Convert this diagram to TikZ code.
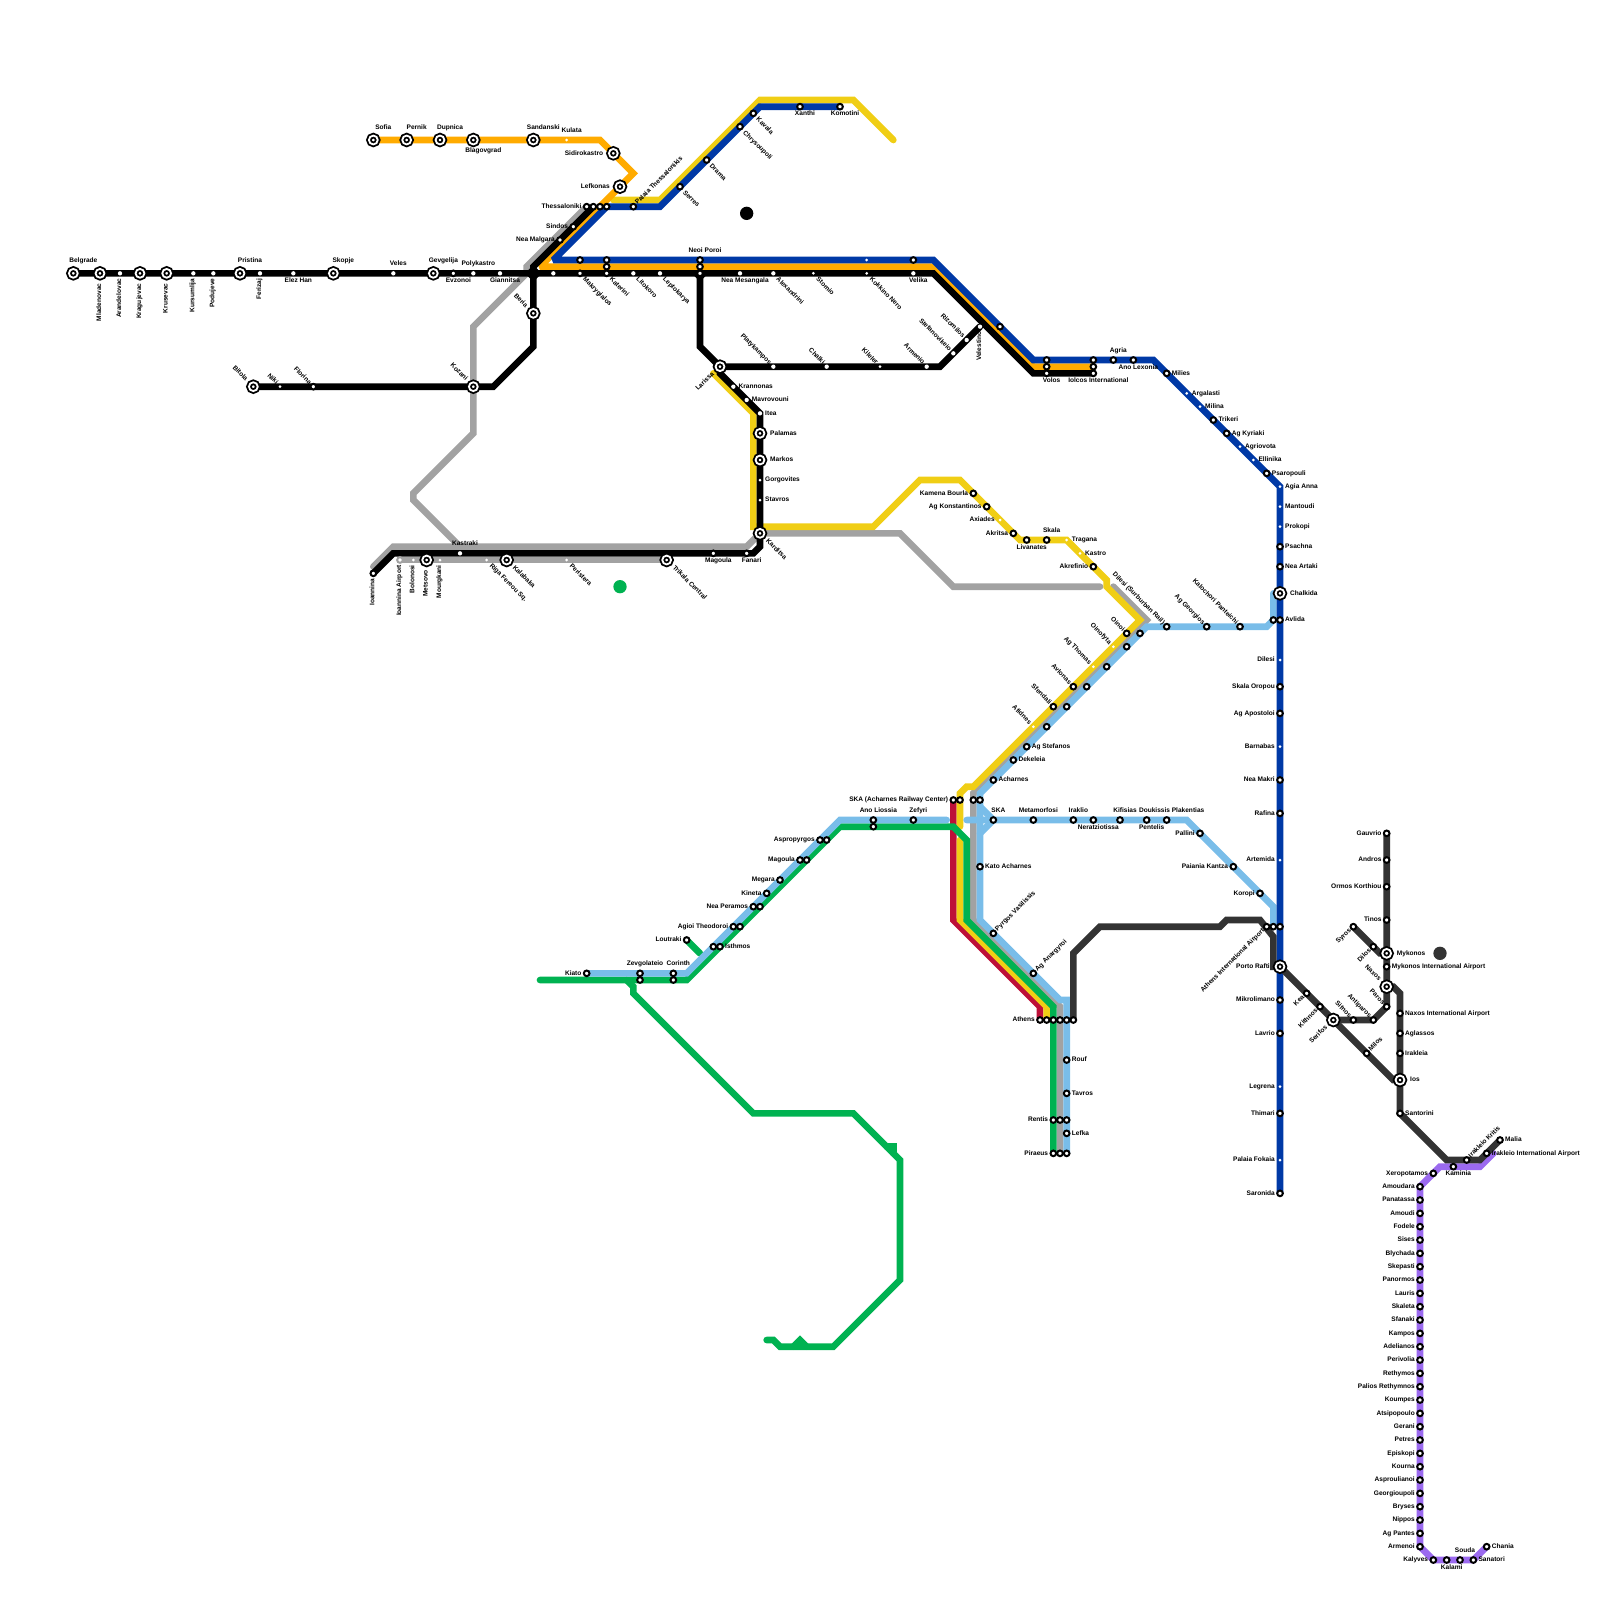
\documentclass[tikz,border=0pt]{standalone}
\usepackage{fontspec}
\setmainfont{Liberation Sans}
\usetikzlibrary{backgrounds}
\definecolor{routered}{HTML}{bd1038}
\definecolor{routeyellow}{HTML}{f0ce15}
\definecolor{routegreen}{HTML}{00b251}
\definecolor{routeorange}{HTML}{ffab00}
\definecolor{routeblue}{HTML}{0039a6}
\definecolor{routesky}{HTML}{79bde9}
\definecolor{routegrey}{HTML}{a2a2a2}
\definecolor{routedark}{HTML}{333333}
\definecolor{routepurple}{HTML}{9b6aef}
\begin{document}
\begin{tikzpicture}[x=2mm,y=-2mm,
  route/.style={line width=2mm,line cap=round,miter limit=2},
  stop/.style={circle,draw=black,fill=white,line width=0.6mm,inner sep=0pt,minimum size=1.7mm},
  halt/.style={circle,fill=white,inner sep=0pt,minimum size=0.9mm},
  mid/.style={halt,minimum size=1.3mm},
  hub/.style={circle,draw=black,double=white,fill=white,line width=0.55mm,double distance=0.55mm,inner sep=0pt,minimum size=2.65mm},
  bigdot/.style={circle,inner sep=0pt,minimum size=4mm},
  lbl/.style={font=\bfseries\fontsize{5.6}{6}\selectfont,inner sep=0pt,text height=1.4mm,text depth=0.4mm},
  lab/.style n args={4}{append after command={(\tikzlastnode.center) node[lbl,shift={#3},rotate=#2,anchor=#1] (\tikzlastnode Text) {#4}}},
  labT/.style={lab={center}{0}{(0.75,-1.4)}{#1}},
  labB/.style={lab={center}{0}{(0.75,1.1)}{#1}},
  labL/.style={lab={east}{0}{(-0.75,0)}{#1}},
  labR/.style={lab={west}{0}{(0.75,0)}{#1}},
  labV/.style={lab={east}{90}{(-0.1,0.75)}{#1}},
  labNW/.style={lab={east}{-45}{(-0.45,-0.45)}{#1}},
  labSE/.style={lab={west}{-45}{(0.55,0.75)}{#1}},
  labNE/.style={lab={west}{45}{(0.45,-0.45)}{#1}},
  labSW/.style={lab={east}{45}{(-0.45,0.45)}{#1}},
  hubT/.style={lab={center}{0}{(1.5,-1.9)}{#1}},
  hubB/.style={lab={center}{0}{(1.5,1.65)}{#1}},
  hubL/.style={lab={east}{0}{(-1.5,0)}{#1}},
  hubR/.style={lab={west}{0}{(1.5,0)}{#1}},
  hubV/.style={lab={east}{90}{(-0.1,1.5)}{#1}},
  hubNW/.style={lab={east}{-45}{(-1,-1)}{#1}},
  hubSE/.style={lab={west}{-45}{(1,1)}{#1}},
  hubSW/.style={lab={east}{45}{(-1,1)}{#1}}]
  \useasboundingbox (0,0) rectangle (240,240);
  \node[hub,hubT={Belgrade}] (belgrade) at (11,41) {};
  \node[hub,hubV={Mladenovac}] (mladenovac) at (15,41) {};
  \node[mid,labV={Arandelovac}] (arandelovac) at (18,41) {};
  \node[hub,hubV={Kragujevac}] (kragujevac) at (21,41) {};
  \node[hub,hubV={Krusevac}] (krusevac) at (25,41) {};
  \node[mid,labV={Kursumlija}] (kursumlija) at (29,41) {};
  \node[mid,labV={Podujeve}] (podujeve) at (32,41) {};
  \node[hub,hubT={Pristina}] (pristina) at (36,41) {};
  \node[mid,labV={Ferizaj}] (ferizaj) at (39,41) {};
  \node[mid,labB={Elez Han}] (elezHan) at (44,41) {};
  \node[hub,hubT={Skopje}] (skopje) at (50,41) {};
  \node[mid,labT={Veles}] (veles) at (59,41) {};
  \node[hub,hubT={Gevgelija}] (gevgelija) at (65,41) {};
  \node[stop,labB={Evzonoi}] (evzonoi) at (68,41) {};
  \node[mid,labT={Polykastro}] (polykastro) at (71,41) {};
  \node[mid,labB={Giannitsa}] (giannitsa) at (75,41) {};
  \node[mid] (halt83) at (83,41) {};
  \node[stop,labSE={Makrygialos}] (makrygialos) at (87,41) {};
  \node[stop,labSE={Katerini}] (katerini) at (91,41) {};
  \node[mid,labSE={Litokoro}] (litokoro) at (95,41) {};
  \node[mid,labSE={Leptokarya}] (leptokarya) at (99,41) {};
  \node[stop] (neoiPoroiC) at (105,41) {};
  \node[mid,labB={Nea Mesangala}] (neaMesangala) at (111,41) {};
  \node[mid,labSE={Alexandrini}] (alexandrini) at (116,41) {};
  \node[halt,labSE={Stomio}] (stomio) at (122,41) {};
  \node[halt,labSE={Kokkino Nero}] (kokkinoNero) at (130,41) {};
  \node[mid,labB={Velika}] (velika) at (137,41) {};
  \node[stop] (blue87) at (87,39) {};
  \node[stop] (kateriniA) at (91,39) {};
  \node[stop] (kateriniB) at (91,40) {};
  \node[stop,labT={Neoi Poroi}] (neoiPoroi) at (105,39) {};
  \node[stop] (neoiPoroiB) at (105,40) {};
  \node[halt] (blue130) at (130,39) {};
  \node[stop] (blue137) at (137,39) {};
  \node[stop] (blue150) at (150,49) {};
  \node[hub,hubT={Sofia}] (sofia) at (56,21) {};
  \node[hub,hubT={Pernik}] (pernik) at (61,21) {};
  \node[hub,hubT={Dupnica}] (dupnica) at (66,21) {};
  \node[hub,hubB={Blagovgrad}] (blagovgrad) at (71,21) {};
  \node[hub,hubT={Sandanski}] (sandanski) at (80,21) {};
  \node[halt,labT={Kulata}] (kulata) at (85,21) {};
  \node[hub,hubL={Sidirokastro}] (sidirokastro) at (92,23) {};
  \node[hub,hubL={Lefkonas}] (lefkonas) at (93,28) {};
  \node[stop,labL={Thessaloniki}] (thessaloniki) at (88,31) {};
  \node[stop] (thessalonikiB) at (89,31) {};
  \node[stop] (thessalonikiC) at (90,31) {};
  \node[stop] (thessalonikiD) at (91,31) {};
  \node[stop,labL={Sindos}] (sindos) at (86,34) {};
  \node[stop,labL={Nea Malgara}] (neaMalgara) at (84,36) {};
  \node[stop,labNE={Palaia Thessalonikis}] (palaiaThess) at (95,31) {};
  \node[stop,labSE={Serres}] (serres) at (102,28) {};
  \node[stop,labSE={Drama}] (drama) at (106,24) {};
  \node[stop,labSE={Chrysoupoli}] (chrysoupoli) at (111,19) {};
  \node[stop,labSE={Kavala}] (kavala) at (113,17) {};
  \node[stop,labB={Xanthi}] (xanthi) at (120,16) {};
  \node[stop,labB={Komotini}] (komotini) at (126,16) {};
  \node[hub,hubNW={Beria}] (beria) at (80,47) {};
  \node[hub,hubNW={Bitola}] (bitola) at (38,58) {};
  \node[halt,labNW={Niki}] (niki) at (42,58) {};
  \node[stop,labNW={Florina}] (florina) at (47,58) {};
  \node[hub,hubNW={Kozani}] (kozani) at (71,58) {};
  \node[hub,hubSW={Larissa}] (larissa) at (108,55) {};
  \node[mid,labNW={Platykampos}] (platykampos) at (116,55) {};
  \node[mid,labNW={Chalki}] (chalki) at (124,55) {};
  \node[halt,labNW={Kileler}] (kileler) at (132,55) {};
  \node[mid,labNW={Armenio}] (armenio) at (139,55) {};
  \node[mid,labNW={Stefanovikeio}] (stefanovikeio) at (143,53) {};
  \node[mid,labNW={Rizomilos}] (rizomilos) at (145,51) {};
  \node[mid,labV={Velestino}] (velestino) at (147,49) {};
  \node[mid,labR={Krannonas}] (krannonas) at (110,58) {};
  \node[mid,labR={Mavrovouni}] (mavrovouni) at (112,60) {};
  \node[mid,labR={Itea}] (itea) at (114,62) {};
  \node[hub,hubR={Palamas}] (palamas) at (114,65) {};
  \node[hub,hubR={Markos}] (markos) at (114,69) {};
  \node[halt,labR={Gorgovites}] (gorgovites) at (114,72) {};
  \node[halt,labR={Stavros}] (stavros) at (114,75) {};
  \node[hub,hubSE={Karditsa}] (karditsa) at (114,80) {};
  \node[stop,labB={Fanari}] (fanari) at (112,83) {};
  \node[stop,labB={Magoula}] (magoulaW) at (107,83) {};
  \node[hub,hubSE={Trikala Central}] (trikala) at (100,84) {};
  \node[halt,labSE={Peristera}] (peristera) at (85,84) {};
  \node[hub,hubSE={Kalabaka}] (kalabaka) at (76,84) {};
  \node[halt,labSE={Riga Fereou Sq.}] (rigaFereou) at (73,84) {};
  \node[mid,labT={Kastraki}] (kastraki) at (69,83) {};
  \node[halt,labV={Mourgkani}] (mourgkani) at (66,84) {};
  \node[hub,hubV={Metsovo}] (metsovo) at (64,84) {};
  \node[halt,labV={Bolonosi}] (bolonosi) at (62,84) {};
  \node[stop,draw=routegrey,labV={Ioannina Airport}] (ioanninaAirport) at (60,84) {};
  \node[stop,labV={Ioannina}] (ioannina) at (56,86) {};
  \node[stop,labB={Volos}] (volos) at (157,56) {};
  \node[stop] (volosB) at (157,55) {};
  \node[stop] (volosA) at (157,54) {};
  \node[stop,labB={Iolcos International}] (iolcos) at (164,56) {};
  \node[stop] (iolcosB) at (164,55) {};
  \node[stop] (iolcosA) at (164,54) {};
  \node[stop,labT={Agria}] (agria) at (167,54) {};
  \node[stop,labB={Ano Lexonia}] (anoLexonia) at (170,54) {};
  \node[stop,labR={Milies}] (milies) at (175,56) {};
  \node[halt,labR={Argalasti}] (argalasti) at (178,59) {};
  \node[halt,labR={Milina}] (milina) at (180,61) {};
  \node[stop,labR={Trikeri}] (trikeri) at (182,63) {};
  \node[stop,labR={Ag Kyriaki}] (agKyriaki) at (184,65) {};
  \node[halt,labR={Agriovota}] (agriovota) at (186,67) {};
  \node[halt,labR={Ellinika}] (ellinika) at (188,69) {};
  \node[stop,labR={Psaropouli}] (psaropouli) at (190,71) {};
  \node[halt,labR={Agia Anna}] (agiaAnna) at (192,73) {};
  \node[halt,labR={Mantoudi}] (mantoudi) at (192,76) {};
  \node[halt,labR={Prokopi}] (prokopi) at (192,79) {};
  \node[stop,labR={Psachna}] (psachna) at (192,82) {};
  \node[stop,labR={Nea Artaki}] (neaArtaki) at (192,85) {};
  \node[hub,hubR={Chalkida}] (chalkida) at (192,89) {};
  \node[stop,labR={Avlida}] (avlida) at (192,93) {};
  \node[stop] (avlidaW) at (191,93) {};
  \node[halt,labL={Dilesi}] (dilesi) at (192,99) {};
  \node[stop,labL={Skala Oropou}] (skalaOropou) at (192,103) {};
  \node[stop,labL={Ag Apostoloi}] (agApostoloi) at (192,107) {};
  \node[halt,labL={Barnabas}] (barnabas) at (192,112) {};
  \node[stop,labL={Nea Makri}] (neaMakri) at (192,117) {};
  \node[stop,labL={Rafina}] (rafina) at (192,122) {};
  \node[halt,labL={Artemida}] (artemida) at (192,129) {};
  \node[stop] (airportE) at (192,139) {};
  \node[stop] (airportB) at (191,139) {};
  \node[stop,labSW={Athens International Airport}] (airport) at (190,139) {};
  \node[hub,hubL={Porto Rafti}] (portoRafti) at (192,145) {};
  \node[stop,labL={Mikrolimano}] (mikrolimano) at (192,150) {};
  \node[stop,labL={Lavrio}] (lavrio) at (192,155) {};
  \node[halt,labL={Legrena}] (legrena) at (192,163) {};
  \node[stop,labL={Thimari}] (thimari) at (192,167) {};
  \node[halt,labL={Palaia Fokaia}] (palaiaFokaia) at (192,174) {};
  \node[stop,labL={Saronida}] (saronida) at (192,179) {};
  \node[stop,labL={Kamena Bourla}] (kamenaBourla) at (146,74) {};
  \node[stop,labL={Ag Konstantinos}] (agKonstantinos) at (148,76) {};
  \node[halt,labL={Axiades}] (axiades) at (150,78) {};
  \node[stop,labL={Akritsa}] (akritsa) at (152,80) {};
  \node[stop,labB={Livanates}] (livanates) at (154,81) {};
  \node[stop,labT={Skala}] (skala) at (157,81) {};
  \node[halt,labR={Tragana}] (tragana) at (160,81) {};
  \node[halt,labR={Kastro}] (kastro) at (162,83) {};
  \node[stop,labL={Akrefinio}] (akrefinio) at (164,85) {};
  \node[stop,labNW={Dilesi (Surburban Rail)}] (dilesiRail) at (175,94) {};
  \node[stop,labNW={Ag Georgios}] (agGeorgios) at (181,94) {};
  \node[stop,labNW={Kalochori Panteichi}] (kalochori) at (186,94) {};
  \node[stop] (oinoiE) at (171,95) {};
  \node[stop,labNW={Oinoi}] (oinoi) at (169,95) {};
  \node[stop] (oinofytaE) at (169,97) {};
  \node[halt,labNW={Oinofyta}] (oinofyta) at (167,97) {};
  \node[stop] (agThomasE) at (166,100) {};
  \node[halt,labNW={Ag Thomas}] (agThomas) at (164,100) {};
  \node[stop] (avlonasE) at (163,103) {};
  \node[stop,labNW={Avlonas}] (avlonas) at (161,103) {};
  \node[stop] (sfendaliE) at (160,106) {};
  \node[stop,labNW={Sfendali}] (sfendali) at (158,106) {};
  \node[stop] (afidnesE) at (157,109) {};
  \node[halt,labNW={Afidnes}] (afidnes) at (155,109) {};
  \node[stop,labR={Ag Stefanos}] (agStefanos) at (154,112) {};
  \node[stop,labR={Dekeleia}] (dekeleia) at (152,114) {};
  \node[stop,labR={Acharnes}] (acharnes) at (149,117) {};
  \node[stop,labL={SKA (Acharnes Railway Center)}] (skaA) at (143,120) {};
  \node[stop] (skaB) at (144,120) {};
  \node[stop] (skaC) at (146,120) {};
  \node[stop] (skaD) at (147,120) {};
  \node[stop,labT={SKA}] (skaE) at (149,123) {};
  \node[stop,labT={Metamorfosi}] (metamorfosi) at (155,123) {};
  \node[stop,labT={Iraklio}] (iraklio) at (161,123) {};
  \node[stop,labB={Neratziotissa}] (neratziotissa) at (164,123) {};
  \node[stop,labT={Kifisias}] (kifisias) at (168,123) {};
  \node[stop,labB={Pentelis}] (pentelis) at (172,123) {};
  \node[stop,labT={Doukissis Plakentias}] (doukissis) at (175,123) {};
  \node[stop,labL={Pallini}] (pallini) at (180,125) {};
  \node[stop,labL={Paiania Kantza}] (paiania) at (185,130) {};
  \node[stop,labL={Koropi}] (koropi) at (189,134) {};
  \node[stop,labR={Kato Acharnes}] (katoAcharnes) at (147,130) {};
  \node[stop,labNE={Pyrgos Vasilissis}] (pyrgos) at (149,140) {};
  \node[stop,labNE={Ag Anargyroi}] (agAnargyroi) at (155,146) {};
  \node[stop,labL={Athens}] (athensA) at (156,153) {};
  \node[stop] (athensB) at (157,153) {};
  \node[stop] (athensC) at (158,153) {};
  \node[stop] (athensD) at (159,153) {};
  \node[stop] (athensE) at (160,153) {};
  \node[stop] (athensF) at (161,153) {};
  \node[stop,labR={Rouf}] (rouf) at (160,159) {};
  \node[stop,labR={Tavros}] (tavros) at (160,164) {};
  \node[stop,labL={Rentis}] (rentisA) at (158,168) {};
  \node[stop] (rentisB) at (159,168) {};
  \node[stop] (rentisC) at (160,168) {};
  \node[stop,labR={Lefka}] (lefka) at (160,170) {};
  \node[stop,labL={Piraeus}] (piraeusA) at (158,173) {};
  \node[stop] (piraeusB) at (159,173) {};
  \node[stop] (piraeusC) at (160,173) {};
  \node[stop,labT={Ano Liossia}] (anoLiossia) at (131,123) {};
  \node[stop] (anoLiossiaB) at (131,124) {};
  \node[stop,labT={Zefyri}] (zefyri) at (137,123) {};
  \node[stop,labL={Aspropyrgos}] (aspropyrgos) at (123,126) {};
  \node[stop] (aspropyrgosB) at (124,126) {};
  \node[stop,labL={Magoula}] (magoulaA) at (120,129) {};
  \node[stop] (magoulaB) at (121,129) {};
  \node[stop,labL={Megara}] (megara) at (117,132) {};
  \node[stop,labL={Kineta}] (kineta) at (115,134) {};
  \node[stop,labL={Nea Peramos}] (neaPeramos) at (113,136) {};
  \node[stop] (neaPeramosB) at (114,136) {};
  \node[stop,labL={Agioi Theodoroi}] (agioiTheodoroi) at (110,139) {};
  \node[stop] (agioiTheodoroiB) at (111,139) {};
  \node[stop] (isthmosA) at (107,142) {};
  \node[stop,labR={Isthmos}] (isthmos) at (108,142) {};
  \node[stop,labL={Loutraki}] (loutraki) at (103,141) {};
  \node[stop,labT={Corinth}] (corinth) at (101,146) {};
  \node[stop] (corinthB) at (101,147) {};
  \node[stop,labT={Zevgolateio}] (zevgolateio) at (96,146) {};
  \node[stop] (zevgolateioB) at (96,147) {};
  \node[stop,labL={Kiato}] (kiato) at (88,146) {};
  \node[stop,labL={Gauvrio}] (gauvrio) at (208,125) {};
  \node[stop,labL={Andros}] (andros) at (208,129) {};
  \node[stop,labL={Ormos Korthiou}] (ormosKorthiou) at (208,133) {};
  \node[stop,labL={Tinos}] (tinos) at (208,138) {};
  \node[stop,labSW={Syros}] (syros) at (203,139) {};
  \node[stop,labSW={Dilos}] (dilos) at (206,142) {};
  \node[hub,hubR={Mykonos}] (mykonos) at (208,143) {};
  \node[stop,labR={Mykonos International Airport}] (mykonosAirport) at (208,145) {};
  \node[hub,hubNW={Naxos}] (naxos) at (208,148) {};
  \node[stop,labNW={Paros}] (paros) at (208,151) {};
  \node[stop,labNW={Antiparos}] (antiparos) at (206,153) {};
  \node[stop,labNW={Sifnos}] (sifnos) at (203,153) {};
  \node[hub,hubSW={Serifos}] (serifos) at (200,153) {};
  \node[stop,labSW={Kithnos}] (kithnos) at (198,151) {};
  \node[stop,labSW={Kea}] (kea) at (196,149) {};
  \node[stop,labNE={Milos}] (milos) at (205,158) {};
  \node[stop,labR={Naxos International Airport}] (naxosAirport) at (210,152) {};
  \node[stop,labR={Aglassos}] (aglassos) at (210,155) {};
  \node[stop,labR={Irakleia}] (irakleia) at (210,158) {};
  \node[hub,hubR={Ios}] (ios) at (210,162) {};
  \node[stop,labR={Santorini}] (santorini) at (210,167) {};
  \node[stop,labNE={Irakleio Kritis}] (irakleioKritis) at (220,174) {};
  \node[stop,labR={Irakleio International Airport}] (irakleioAirport) at (223,173) {};
  \node[stop,labR={Malia}] (malia) at (225,171) {};
  \node[stop,labB={Kaminia}] (kaminia) at (218,175) {};
  \node[stop,labL={Xeropotamos}] (xeropotamos) at (215,176) {};
  \node[stop,labL={Amoudara}] (amoudara) at (213,178) {};
  \node[stop,labL={Panatassa}] (panatassa) at (213,180) {};
  \node[stop,labL={Amoudi}] (amoudi) at (213,182) {};
  \node[stop,labL={Fodele}] (fodele) at (213,184) {};
  \node[stop,labL={Sises}] (sises) at (213,186) {};
  \node[stop,labL={Blychada}] (blychada) at (213,188) {};
  \node[stop,labL={Skepasti}] (skepasti) at (213,190) {};
  \node[stop,labL={Panormos}] (panormos) at (213,192) {};
  \node[stop,labL={Lauris}] (lauris) at (213,194) {};
  \node[stop,labL={Skaleta}] (skaleta) at (213,196) {};
  \node[stop,labL={Sfanaki}] (sfanaki) at (213,198) {};
  \node[stop,labL={Kampos}] (kampos) at (213,200) {};
  \node[stop,labL={Adelianos}] (adelianos) at (213,202) {};
  \node[stop,labL={Perivolia}] (perivolia) at (213,204) {};
  \node[stop,labL={Rethymos}] (rethymos) at (213,206) {};
  \node[stop,labL={Palios Rethymnos}] (paliosRethymnos) at (213,208) {};
  \node[stop,labL={Koumpes}] (koumpes) at (213,210) {};
  \node[stop,labL={Atsipopoulo}] (atsipopoulo) at (213,212) {};
  \node[stop,labL={Gerani}] (gerani) at (213,214) {};
  \node[stop,labL={Petres}] (petres) at (213,216) {};
  \node[stop,labL={Episkopi}] (episkopi) at (213,218) {};
  \node[stop,labL={Kourna}] (kourna) at (213,220) {};
  \node[stop,labL={Asproulianoi}] (asproulianoi) at (213,222) {};
  \node[stop,labL={Georgioupoli}] (georgioupoli) at (213,224) {};
  \node[stop,labL={Bryses}] (bryses) at (213,226) {};
  \node[stop,labL={Nippos}] (nippos) at (213,228) {};
  \node[stop,labL={Ag Pantes}] (agPantes) at (213,230) {};
  \node[stop,labL={Armenoi}] (armenoi) at (213,232) {};
  \node[stop,labL={Kalyves}] (kalyves) at (215,234) {};
  \node[stop,labB={Kalami}] (kalami) at (217,234) {};
  \node[stop,labT={Souda}] (souda) at (219,234) {};
  \node[stop,labR={Sanatori}] (sanatori) at (221,234) {};
  \node[stop,labR={Chania}] (chania) at (223,232) {};
  \node[bigdot,fill=black] (dotBlack) at (112,32) {};
  \node[bigdot,fill=routegreen] (dotGreen) at (93,88) {};
  \node[bigdot,fill=routedark] (dotDark) at (216,143) {};
  \coordinate (greyWest) at (56,85);
  \coordinate (greyEast) at (165,88);
  \coordinate (greyNorth) at (167,88);
  \coordinate (yellowNorth) at (92,30);
  \coordinate (yellowEast) at (134,21);
  \coordinate (yellowWest) at (107,56);
  \coordinate (yellowCut) at (144,124);
  \coordinate (yellowSouth) at (144,126);
  \coordinate (greenWest) at (81,147);
  \coordinate (greenFork) at (94,147);
  \coordinate (greenEnd) at (115,201);
  \coordinate (loutrakiJoin) at (105,143);
  \coordinate (skyWest) at (142,123);
  \coordinate (skyEast) at (145,123);
  \coordinate (skyNorth) at (191,89);
  \coordinate (purpleEnd) at (224,173);
  \begin{scope}[on background layer]
    \draw[route,routegrey] (thessaloniki.center)--(79,40)--(79,41)--(71,49)--(kozani.center)--(71,65)--(62,74)--(62,75)--(69,82);
    \draw[route,routegrey] (greyWest)--(59,82)--(112,82)--(karditsa.center)--(135,80)--(143,88)--(greyEast);
    \draw[route,routegrey] (ioanninaAirport.center)--(trikala.center);
    \draw[route,routegrey] (greyNorth)--(172,93)--(146,119)--(146,138)--(159,151)--(piraeusB.center);
    \draw[route,routered] (skaA.center)--(143,138)--(156,151)--(athensA.center);
    \draw[route,routeyellow] (yellowNorth)--(99,30)--(114,15)--(128,15)--(yellowEast);
    \draw[route,routeyellow] (yellowWest)--(113,62)--(113,79)--(115,79)--(131,79)--(138,72)--(144,72)--(153,81)--(160,81)--(166,87)--(166,88)--(171,93)--(146,118)--(145,118)--(144,119)--(yellowCut);
    \draw[route,routeyellow] (yellowSouth)--(144,138)--(157,151)--(athensB.center);
    \draw[route,routegreen] (greenWest)--(103,147)--(126,124)--(143,124)--(145,126)--(145,138)--(158,151)--(piraeusA.center);
    \draw[route,routegreen] (greenFork)--(95,148)--(95,149)--(113,167)--(128,167)--(135,174)--(135,192)--(125,202)--(117,202)--(116,201)--(greenEnd);
    \draw[route,routegreen] (loutraki.center)--(loutrakiJoin);
    \draw[route,routegreen] (119,202)--(120,201)--(121,202);
    \draw[route,routegreen] (133,172)--(134,172)--(134,173);
    \draw[route,routeorange] (sofia.center)--(90,21)--(95,26)--(81,40)--(140,40)--(155,55)--(iolcosB.center);
    \draw[route,routesky] (kiato.center)--(103,146)--(126,123)--(skyWest);
    \draw[route,routesky] (skyEast)--(178,123)--(191,136)--(airportB.center);
    \draw[route,routesky] (skyNorth)--(191,93)--(190,94)--(172,94)--(147,119)--(147,138)--(159,150)--(160,150)--(piraeusC.center);
    \draw[route,routesky] (147,121)--(149,123)--(147,125);
    \draw[route,routeblue] (komotini.center)--(114,16)--(99,31)--(91,31)--(83,39)--(140,39)--(155,54)--(173,54)--(192,73)--(saronida.center);
    \draw[route,routepurple] (purpleEnd)--(222,175)--(216,175)--(213,178)--(213,232)--(215,234)--(221,234)--(chania.center);
    \draw[route] (belgrade.center)--(140,41)--(155,56)--(iolcos.center);
    \draw[route] (thessalonikiB.center)--(80,40)--(80,52)--(74,58)--(bitola.center);
    \draw[route] (neoiPoroiC.center)--(105,52)--(larissa.center);
    \draw[route] (velestino.center)--(141,55)--(larissa.center)--(108,56)--(114,62)--(114,82)--(113,83)--(59,83)--(ioannina.center);
    \fill (78.75,41)--(80,39.75)--(81.25,41)--(80,42.25)--cycle;
    \fill (103.75,41)--(105,42.25)--(106.25,41)--cycle;
    \draw[route,routedark] (gauvrio.center)--(paros.center)--(antiparos.center)--(serifos.center)--(portoRafti.center);
    \draw[route,routedark] (serifos.center)--(209,162)--(ios.center);
    \draw[route,routedark] (naxos.center)--(209,148)--(210,149)--(santorini.center)--(217,174)--(222,174)--(malia.center);
    \draw[route,routedark] (syros.center)--(207,143)--(mykonos.center);
    \draw[route,routedark] (athensF.center)--(161,143)--(165,139)--(183,139)--(184,138)--(189,138)--(191,140.5)--(191,145)--(portoRafti.center);
  \end{scope}
\end{tikzpicture}
\end{document}
